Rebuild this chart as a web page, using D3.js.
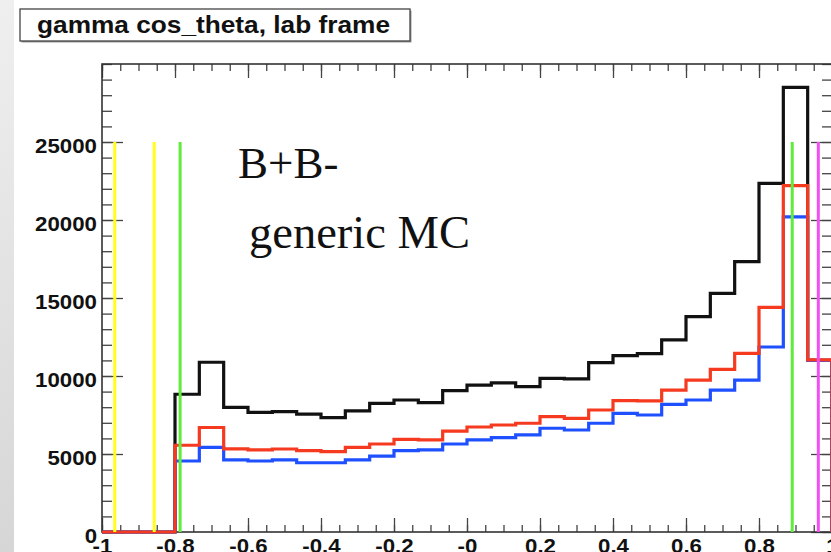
<!DOCTYPE html>
<html><head><meta charset="utf-8">
<script src="https://cdn.jsdelivr.net/npm/d3@7"></script>
<style>
html,body{margin:0;padding:0;background:#fff;}
svg{display:block;}
</style></head><body>
<svg id="chart" width="831" height="552"></svg>
<script>
// ---------- data ----------
const chartTitle = "gamma cos_theta, lab frame";
const nBins = 30;
const xDomain = [-1, 1];
const yDomain = [0, 30000];
const blackCounts = [0,0,0,8830,10880,7990,7670,7710,7560,7330,7760,8250,8460,8290,9060,9420,9560,9320,9850,9820,10860,11300,11430,12320,13800,15300,17330,22350,28500,11000];
const blueCounts  = [0,0,0,4550,5430,4620,4550,4620,4440,4440,4620,4870,5210,5260,5640,5900,6050,6220,6650,6540,6970,7610,7500,8180,8460,9100,9740,11860,20200,11000];
const redCounts   = [0,0,0,5560,6700,5330,5260,5320,5210,5150,5430,5640,5940,5900,6470,6730,6860,6970,7400,7290,7820,8420,8400,9100,9740,10430,11450,14400,22200,11030];
const cutX = [-0.965, -0.857, -0.786, 0.891, 0.9625];
const cutColors = ["#ffff1a", "#ffff1a", "#5fec3c", "#5fec3c", "#f24ff2"];
const cutTop = 25000;
const xTickValues = [-1,-0.8,-0.6,-0.4,-0.2,0,0.2,0.4,0.6,0.8,1];
const xTickLabels = ["-1","-0.8","-0.6","-0.4","-0.2","-0","0.2","0.4","0.6","0.8","1"];
const yTickValues = [0,5000,10000,15000,20000,25000];
const yTickLabels = ["0","5000","10000","15000","20000","25000"];
const annotations = ["B+B-", "generic MC"];

// ---------- layout ----------
const svg = d3.select("#chart");
const L = 102, R = 832, T = 64, B = 532;
const x = d3.scaleLinear().domain(xDomain).range([L, R]);
const y = d3.scaleLinear().domain(yDomain).range([B, T]);

// slide background strip
const defs = svg.append("defs");
const grad = defs.append("linearGradient").attr("id","strip").attr("x1",0).attr("y1",0).attr("x2",0).attr("y2",1);
grad.append("stop").attr("offset","0%").attr("stop-color","#efefef");
grad.append("stop").attr("offset","100%").attr("stop-color","#d6d6d6");
svg.append("rect").attr("x",0).attr("y",0).attr("width",14).attr("height",552).attr("fill","url(#strip)");

// title box
svg.append("rect").attr("x",21.5).attr("y",10.5).attr("width",390).attr("height",32).attr("fill","#999");
svg.append("rect").attr("x",20).attr("y",9).attr("width",390).attr("height",32)
  .attr("fill","#fff").attr("stroke","#444").attr("stroke-width",1.3);
svg.append("text").attr("x",37).attr("y",33).text(chartTitle)
  .attr("font-family","'Liberation Sans', Arial, sans-serif").attr("font-weight","bold")
  .attr("font-size",24.5).attr("fill","#111")
  .attr("textLength",353).attr("lengthAdjust","spacingAndGlyphs");

// ---------- axes (ticks inward, ROOT style) ----------
const tickStyle = g => {
  g.select(".domain").remove();
  g.selectAll(".tick line").attr("stroke","#444").attr("stroke-width",1.3);
};
const xMinor = d3.range(0, 41).map(i => -1 + i * 0.05);
const yMinor = d3.range(0, 31).map(i => i * 1000);

// top
svg.append("g").attr("transform",`translate(0,${T})`)
  .call(d3.axisTop(x).tickValues(xMinor).tickSize(-7).tickFormat("")).call(tickStyle);
svg.append("g").attr("transform",`translate(0,${T})`)
  .call(d3.axisTop(x).tickValues(xTickValues).tickSize(-14).tickFormat("")).call(tickStyle);
// right
svg.append("g").attr("transform",`translate(${R},0)`)
  .call(d3.axisRight(y).tickValues(yMinor).tickSize(-10).tickFormat("")).call(tickStyle);
svg.append("g").attr("transform",`translate(${R},0)`)
  .call(d3.axisRight(y).tickValues(yTickValues).tickSize(-21).tickFormat("")).call(tickStyle);
// bottom
svg.append("g").attr("transform",`translate(0,${B})`)
  .call(d3.axisBottom(x).tickValues(xMinor).tickSize(-7).tickFormat("")).call(tickStyle);
const xAxisG = svg.append("g").attr("transform",`translate(0,${B})`)
  .call(d3.axisBottom(x).tickValues(xTickValues).tickSize(-14).tickPadding(7)
    .tickFormat((d,i) => xTickLabels[i])).call(tickStyle);
// left
svg.append("g").attr("transform",`translate(${L},0)`)
  .call(d3.axisLeft(y).tickValues(yMinor).tickSize(-10).tickFormat("")).call(tickStyle);
const yAxisG = svg.append("g").attr("transform",`translate(${L},0)`)
  .call(d3.axisLeft(y).tickValues(yTickValues).tickSize(-21).tickPadding(5)
    .tickFormat((d,i) => yTickLabels[i])).call(tickStyle);

const labelFont = sel => sel.attr("font-family","'Liberation Sans', Arial, sans-serif")
  .attr("font-weight","bold").attr("font-size",21).attr("fill","#111");
xAxisG.selectAll("text").call(labelFont).attr("dy","0.68em");
yAxisG.selectAll("text").call(labelFont).attr("dy","0.36em").attr("y",2.5);
[xAxisG, yAxisG].forEach(g => g.selectAll("text").each(function(){
  const w = this.getComputedTextLength();
  d3.select(this).attr("textLength", w * 1.06).attr("lengthAdjust","spacingAndGlyphs");
}));

// frame
svg.append("rect").attr("x",L).attr("y",T).attr("width",R-L).attr("height",B-T)
  .attr("fill","none").attr("stroke","#333").attr("stroke-width",1.6);

// ---------- histograms ----------
const binW = (xDomain[1] - xDomain[0]) / nBins;
function stepPoints(counts){
  const pts = [[xDomain[0], 0]];
  counts.forEach((v,i) => {
    const a = xDomain[0] + i * binW;
    pts.push([a, v], [a + binW, v]);
  });
  pts.push([xDomain[1], 0]);
  return pts;
}
const line = d3.line().x(d => x(d[0])).y(d => y(d[1]));
[[blackCounts,"#111111"],[blueCounts,"#1f50ff"],[redCounts,"#f53a20"]].forEach(([c,col]) => {
  svg.append("path").datum(stepPoints(c)).attr("d", line)
    .attr("fill","none").attr("stroke",col).attr("stroke-width",3.2)
    .attr("stroke-linejoin","miter");
});

// cut lines
svg.append("g").selectAll("line").data(cutX).join("line")
  .attr("x1", d => x(d)).attr("x2", d => x(d))
  .attr("y1", y(cutTop)).attr("y2", y(0))
  .attr("stroke", (d,i) => cutColors[i]).attr("stroke-width",3);

// annotations
svg.append("text").attr("x",238).attr("y",178).text(annotations[0])
  .attr("font-family","'Liberation Serif', 'Times New Roman', serif").attr("font-size",45).attr("fill","#111");
svg.append("text").attr("x",249).attr("y",248).text(annotations[1])
  .attr("font-family","'Liberation Serif', 'Times New Roman', serif").attr("font-size",45.5).attr("fill","#111")
  .attr("textLength",221).attr("lengthAdjust","spacingAndGlyphs");
</script>
</body></html>
